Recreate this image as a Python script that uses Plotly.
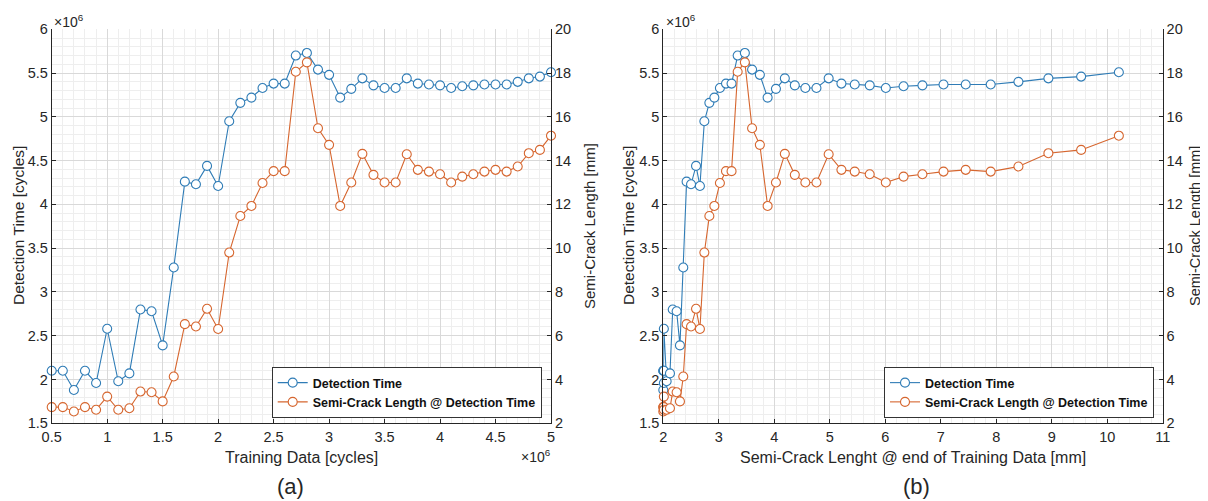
import plotly.graph_objects as go

# ---------------- data ----------------
training_data_mcycles = [0.5, 0.6, 0.7, 0.8, 0.9, 1.0, 1.1, 1.2, 1.3, 1.4,
                         1.5, 1.6, 1.7, 1.8, 1.9, 2.0, 2.1, 2.2, 2.3, 2.4,
                         2.5, 2.6, 2.7, 2.8, 2.9, 3.0, 3.1, 3.2, 3.3, 3.4,
                         3.5, 3.6, 3.7, 3.8, 3.9, 4.0, 4.1, 4.2, 4.3, 4.4,
                         4.5, 4.6, 4.7, 4.8, 4.9, 5.0]

crack_end_training_mm = [2.00, 2.00, 2.00, 2.01, 2.01, 2.01, 2.06, 2.12, 2.17, 2.24,
                         2.30, 2.36, 2.42, 2.50, 2.59, 2.66, 2.74, 2.83, 2.92, 3.02,
                         3.13, 3.23, 3.34, 3.47, 3.60, 3.74, 3.88, 4.03, 4.19, 4.37,
                         4.56, 4.76, 4.98, 5.21, 5.45, 5.72, 6.01, 6.33, 6.67, 7.05,
                         7.45, 7.90, 8.40, 8.94, 9.53, 10.21]

detection_time_mcycles = [2.10, 2.10, 1.88, 2.10, 1.96, 2.58, 1.98, 2.07, 2.80, 2.78,
                          2.39, 3.28, 4.26, 4.23, 4.44, 4.21, 4.95, 5.16, 5.22, 5.33,
                          5.38, 5.38, 5.70, 5.73, 5.54, 5.48, 5.22, 5.32, 5.44, 5.36,
                          5.33, 5.33, 5.44, 5.38, 5.37, 5.36, 5.33, 5.35, 5.36, 5.37,
                          5.37, 5.37, 5.40, 5.44, 5.46, 5.51]

crack_at_detection_mm = [2.74, 2.74, 2.54, 2.74, 2.62, 3.22, 2.62, 2.69, 3.45, 3.42,
                         3.00, 4.14, 6.53, 6.42, 7.23, 6.31, 9.80, 11.47, 11.93, 12.98,
                         13.52, 13.52, 18.06, 18.49, 15.48, 14.72, 11.93, 13.00, 14.31, 13.35,
                         13.00, 13.00, 14.29, 13.58, 13.50, 13.38, 13.00, 13.27, 13.38, 13.50,
                         13.58, 13.50, 13.73, 14.34, 14.49, 15.14]

series_names = ["Detection Time", "Semi-Crack Length @ Detection Time"]
panel_labels = ["(a)", "(b)"]

# ---------------- style ----------------
BLUE = "#2f7cb6"
ORANGE = "#d6662f"
FONT = "Liberation Sans, Arial, sans-serif"
AX = "#262626"
GRID = "#d9d9d9"
MINOR = "#eeeeee"

# page body has an 8px default margin -> figure is drawn 8px in from the window edge
OFF = 8
W, H = 1200, 493

def px(X):
    return (X - OFF) / W

def py(Y):
    return 1 - (Y - OFF) / H

fig = go.Figure()

def add_panel(xvals, xaxis, yl, yr, legend):
    fig.add_trace(go.Scatter(
        x=xvals, y=detection_time_mcycles, xaxis=xaxis, yaxis=yl,
        mode="lines+markers", name=series_names[0], legend=legend, cliponaxis=False,
        line=dict(color=BLUE, width=1.1),
        marker=dict(symbol="circle", size=9, color="white",
                    line=dict(color=BLUE, width=1.1))))
    fig.add_trace(go.Scatter(
        x=xvals, y=crack_at_detection_mm, xaxis=xaxis, yaxis=yr,
        mode="lines+markers", name=series_names[1], legend=legend, cliponaxis=False,
        line=dict(color=ORANGE, width=1.1),
        marker=dict(symbol="circle", size=9, color="white",
                    line=dict(color=ORANGE, width=1.1))))

add_panel(training_data_mcycles, "x", "y", "y2", "legend")
add_panel(crack_end_training_mm, "x2", "y3", "y4", "legend2")

xd1 = [px(51.7), px(551.0)]
xd2 = [px(663.3), px(1162.7)]
yd = [py(423.3), py(29.3)]

tickfont = dict(family=FONT, size=14.5, color="#262626")

def xaxis_cfg(dom, rng, dtick, minor_dtick, anchor):
    return dict(domain=dom, range=rng, dtick=dtick, tick0=rng[0],
                showline=True, linecolor=AX, linewidth=1,
                ticks="inside", ticklen=4, tickcolor=AX,
                showgrid=True, gridcolor=GRID, gridwidth=1,
                minor=dict(dtick=minor_dtick, showgrid=True, gridcolor=MINOR, gridwidth=1),
                zeroline=False, tickfont=tickfont, anchor=anchor, mirror=False,
                automargin=False, fixedrange=True)

def yleft_cfg(anchor):
    return dict(domain=yd, range=[1.5, 6], dtick=0.5, tick0=1.5,
                showline=True, linecolor=AX, linewidth=1,
                ticks="inside", ticklen=4, tickcolor=AX,
                showgrid=True, gridcolor=GRID,
                minor=dict(dtick=0.1, showgrid=True, gridcolor=MINOR),
                zeroline=False, tickfont=tickfont, anchor=anchor, automargin=False)

def yright_cfg(anchor, over):
    return dict(range=[2, 20], dtick=2, tick0=2, overlaying=over, side="right",
                anchor=anchor, showline=True, linecolor=AX, linewidth=1,
                ticks="inside", ticklen=4, tickcolor=AX,
                showgrid=False, zeroline=False, tickfont=tickfont, automargin=False)

legend_font = dict(family=FONT, size=12.5, color="#111111", weight="bold")

fig.update_layout(
    width=W, height=H,
    margin=dict(l=0, r=0, t=0, b=0, pad=0, autoexpand=False),
    paper_bgcolor="white", plot_bgcolor="white",
    font=dict(family=FONT, color="#262626"),
    showlegend=True,
    xaxis=xaxis_cfg(xd1, [0.5, 5], 0.5, 0.1, "y"),
    xaxis2=xaxis_cfg(xd2, [2, 11], 1, 0.2, "y3"),
    yaxis=yleft_cfg("x"),
    yaxis2=yright_cfg("x", "y"),
    yaxis3=yleft_cfg("x2"),
    yaxis4=yright_cfg("x2", "y3"),
    legend=dict(x=px(541.7), y=py(418), xanchor="right", yanchor="bottom",
                bgcolor="white", bordercolor="#333333", borderwidth=1,
                font=legend_font, tracegroupgap=0, itemwidth=30),
    legend2=dict(x=px(1154), y=py(418), xanchor="right", yanchor="bottom",
                 bgcolor="white", bordercolor="#333333", borderwidth=1,
                 font=legend_font, tracegroupgap=0, itemwidth=30),
)

ann = []
def txt(x, y, s, size=14, angle=0, xanchor="center", yanchor="middle"):
    ann.append(dict(x=px(x), y=py(y), xref="paper", yref="paper", text=s,
                    showarrow=False, textangle=angle, xanchor=xanchor, yanchor=yanchor,
                    font=dict(family=FONT, size=size, color="#262626")))

# exponent labels
txt(52, 21, "×10<sup>6</sup>", 14, xanchor="left")
txt(553, 456, "×10<sup>6</sup>", 14, xanchor="right")
txt(664, 21, "×10<sup>6</sup>", 14, xanchor="left")
# axis titles
txt(301, 457, "Training Data [cycles]", 16)
txt(913, 457, "Semi-Crack Lenght @ end of Training Data [mm]", 16)
txt(18, 226, "Detection Time [cycles]", 15.5, angle=-90)
txt(628, 226, "Detection Time [cycles]", 15.5, angle=-90)
txt(589, 226, "Semi-Crack Length [mm]", 15, angle=-90)
txt(1195, 226, "Semi-Crack Length [mm]", 14.5, angle=-90)
# panel labels
txt(290, 486, panel_labels[0], 22)
txt(917, 486, panel_labels[1], 22)
fig.update_layout(annotations=ann)

fig.write_html("out.html")
